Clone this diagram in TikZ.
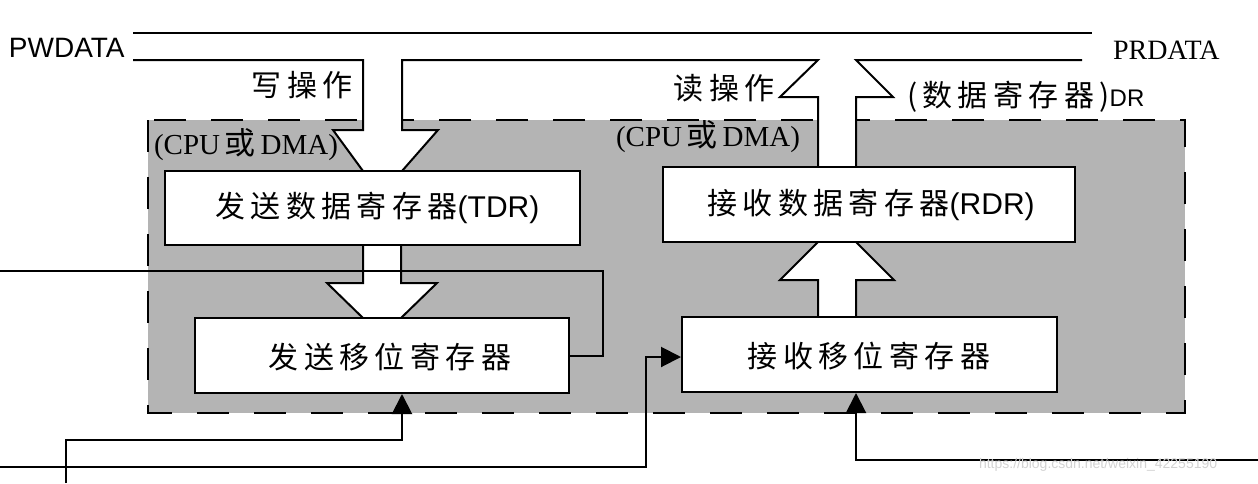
\documentclass[tikz,border=0pt]{standalone}
\usepackage{fontspec}
\setmainfont{Liberation Serif}
\setsansfont{Liberation Sans}
\newfontfamily\cjk[LetterSpace=18]{Noto Sans CJK SC}
\newfontfamily\cjkt{Noto Sans CJK SC}
\usetikzlibrary{arrows.meta}
\definecolor{boxgray}{RGB}{180,180,180}
\definecolor{wmgray}{RGB}{210,210,210}
\begin{document}
\begin{tikzpicture}[x=1pt,y=-1pt,line width=2pt,
  reg/.style={draw=black,fill=white,line width=2pt,inner sep=0pt},
  zh/.style={font=\fontsize{30}{32}\selectfont\cjk},
  wire/.style={line width=2pt},
  tip/.style={-{Triangle[width=20pt,length=20pt]}},
  frame/.style={line width=2.5pt,dash pattern=on 32pt off 25pt}]
\useasboundingbox (0,0) rectangle (1258,483);

% grey dashed region
\fill[boxgray] (148,120) rectangle (1185,413);
\draw[frame] (148,120) rectangle (1185,413);

% buses and big arrows (white shapes)
\fill[white] (363,50) -- (363,130) -- (333,130) -- (363,171) -- (402,171) -- (438,130) -- (402,130) -- (402,50) -- cycle;
\fill[white] (818,60) -- (780,97) -- (818,97) -- (818,167) -- (856,167) -- (856,97) -- (893,97) -- (856,60) -- cycle;
\fill[white] (363,244) -- (363,283) -- (327,283) -- (363,318) -- (401,318) -- (437,283) -- (401,283) -- (401,244) -- cycle;
\fill[white] (818,317) -- (818,280) -- (780,280) -- (818,242) -- (856,242) -- (894,280) -- (856,280) -- (856,317) -- cycle;

\draw (133,33) -- (1092,33);
\draw (133,60) -- (363,60) -- (363,130) -- (333,130) -- (363,171);
\draw (402,171) -- (438,130) -- (402,130) -- (402,60) -- (818,60) -- (780,97) -- (818,97) -- (818,167);
\draw (856,167) -- (856,97) -- (893,97) -- (856,60) -- (1082,60);
\draw (363,244) -- (363,283) -- (327,283) -- (363,318);
\draw (401,244) -- (401,283) -- (437,283) -- (401,318);
\draw (818,317) -- (818,280) -- (780,280) -- (818,242);
\draw (856,317) -- (856,280) -- (894,280) -- (856,242);

% registers
\node[reg,minimum width=415pt,minimum height=74pt] (tdr) at (372.5,208) {};
\node[zh,anchor=west] (tdrt) at (211,208) {发送数据寄存器{\sffamily\fontsize{30}{30}\selectfont(TDR)}};
\node[reg,minimum width=374pt,minimum height=75pt] (tsr) at (382,355.5) {};
\node[zh] (tsrt) at (390,357) {发送移位寄存器};
\node[reg,minimum width=412pt,minimum height=75pt] (rdr) at (869,204.5) {};
\node[zh,anchor=west] (rdrt) at (703,205) {接收数据寄存器{\sffamily\fontsize{30}{30}\selectfont(RDR)}};
\node[reg,minimum width=375pt,minimum height=75pt] (rsr) at (869.5,354.5) {};
\node[zh] (rsrt) at (869,356) {接收移位寄存器};

% labels
\node[anchor=west,font=\sffamily\fontsize{28}{30}\selectfont,inner sep=0pt] (pw) at (8,48) {PWDATA};
\node[anchor=west,font=\rmfamily\fontsize{28}{30}\selectfont,inner sep=0pt] (pr) at (1112,50) {PRDATA};
\node[zh,anchor=east] (wop) at (357,85) {写操作};
\node[zh,anchor=east] (rop) at (779,88) {读操作};
\node[anchor=west,inner sep=0pt] (dr) at (906,97) {{\cjk\fontsize{30}{32}\selectfont(数据寄存器)}{\sffamily\fontsize{24}{26}\selectfont DR}};
\node[anchor=west,inner sep=0pt,font=\rmfamily\fontsize{29}{30}\selectfont] (cpu1) at (153,145) {(CPU\,{\cjkt\fontsize{31}{32}\selectfont 或}\,DMA)};
\node[anchor=west,inner sep=0pt,font=\rmfamily\fontsize{29}{30}\selectfont] (cpu2) at (615,137) {(CPU\,{\cjkt\fontsize{31}{32}\selectfont 或}\,DMA)};

% control wires
\coordinate (l1) at (0,271);
\coordinate (l2) at (66,483);
\coordinate (l3) at (0,467);
\coordinate (r1) at (1258,460);
\draw[wire] (tsr.east) -| (603,271) -- (l1);
\draw[wire,tip] (l2) |- (402,440) -- (402,0 |- tsr.south);
\draw[wire,tip] (l3) -| (646,357) -- (rsr.west |- 0,357);
\draw[wire,tip] (r1) -| (856,0 |- rsr.south);

\node[anchor=west,inner sep=0pt,text=wmgray,font=\sffamily\fontsize{14}{14}\selectfont] (wm) at (978,465) {https://blog.csdn.net/weixin\_42255190};
\end{tikzpicture}
\end{document}
